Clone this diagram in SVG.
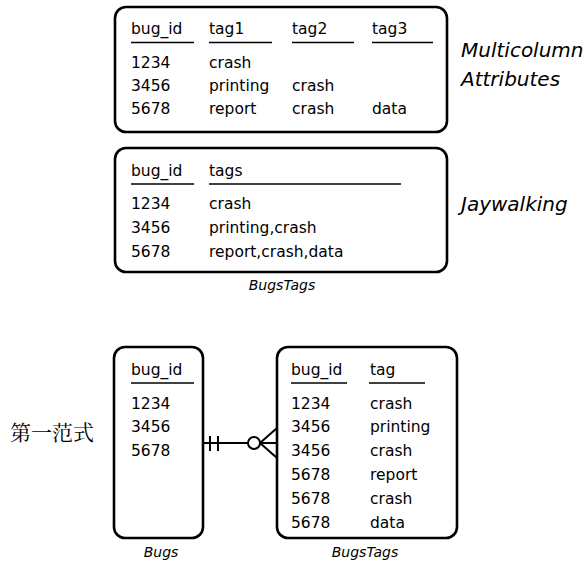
<svg xmlns="http://www.w3.org/2000/svg" width="587" height="563" viewBox="0 0 587 563">
<style>
.box{fill:#fff;stroke:#000;stroke-width:2.6}
.t{font-family:"DejaVu Sans","Liberation Sans",sans-serif;font-size:15.5px;fill:#000}
.ul{stroke:#000;stroke-width:1.3}
.lab{font-family:"DejaVu Sans","Liberation Sans",sans-serif;font-size:20px;font-style:italic;fill:#000}
.cap{font-family:"DejaVu Sans","Liberation Sans",sans-serif;font-size:14px;font-style:italic;fill:#000;text-anchor:middle}
.cn{font-family:"Noto Serif CJK SC","Noto Sans CJK SC",serif;font-size:21px;fill:#000}
.ln{stroke:#000;stroke-width:2;fill:none}
</style>
<g id="multicolumn">
<rect class="box" x="115" y="7" width="332" height="125" rx="11"/>
<text class="t" x="131" y="34">bug_id</text>
<text class="t" x="209" y="34">tag1</text>
<text class="t" x="292" y="34">tag2</text>
<text class="t" x="372" y="34">tag3</text>
<line class="ul" x1="131" y1="42.5" x2="194" y2="42.5"/>
<line class="ul" x1="209" y1="42.5" x2="272" y2="42.5"/>
<line class="ul" x1="292" y1="42.5" x2="354" y2="42.5"/>
<line class="ul" x1="372" y1="42.5" x2="433" y2="42.5"/>
<text class="t" x="131" y="68">1234</text><text class="t" x="209" y="68">crash</text>
<text class="t" x="131" y="91">3456</text><text class="t" x="209" y="91">printing</text><text class="t" x="292" y="91">crash</text>
<text class="t" x="131" y="114">5678</text><text class="t" x="209" y="114">report</text><text class="t" x="292" y="114">crash</text><text class="t" x="372" y="114">data</text>
</g>
<text class="lab" x="461" y="57">Multicolumn</text>
<text class="lab" x="461" y="86">Attributes</text>
<g id="jaywalking">
<rect class="box" x="115" y="148" width="332" height="124" rx="11"/>
<text class="t" x="131" y="176">bug_id</text>
<text class="t" x="209" y="176">tags</text>
<line class="ul" x1="131" y1="184" x2="194" y2="184"/>
<line class="ul" x1="209" y1="184" x2="401" y2="184"/>
<text class="t" x="131" y="209">1234</text><text class="t" x="209" y="209">crash</text>
<text class="t" x="131" y="233">3456</text><text class="t" x="209" y="233">printing,crash</text>
<text class="t" x="131" y="257">5678</text><text class="t" x="209" y="257">report,crash,data</text>
<text class="cap" x="282" y="290">BugsTags</text>
</g>
<text class="lab" x="461" y="211">Jaywalking</text>
<text class="cn" x="10" y="440">第一范式</text>
<g id="bugs">
<rect class="box" x="114" y="347" width="89" height="191" rx="11"/>
<text class="t" x="131" y="375">bug_id</text>
<line class="ul" x1="131" y1="383" x2="194" y2="383"/>
<text class="t" x="131" y="409">1234</text>
<text class="t" x="131" y="432">3456</text>
<text class="t" x="131" y="456">5678</text>
<text class="cap" x="161" y="557">Bugs</text>
</g>
<g id="bugstags">
<rect class="box" x="277" y="347" width="180" height="191" rx="11"/>
<text class="t" x="291" y="375">bug_id</text>
<text class="t" x="370" y="375">tag</text>
<line class="ul" x1="291" y1="383" x2="347" y2="383"/>
<line class="ul" x1="369" y1="383" x2="425" y2="383"/>
<text class="t" x="291" y="409">1234</text><text class="t" x="370" y="409">crash</text>
<text class="t" x="291" y="432">3456</text><text class="t" x="370" y="432">printing</text>
<text class="t" x="291" y="456">3456</text><text class="t" x="370" y="456">crash</text>
<text class="t" x="291" y="480">5678</text><text class="t" x="370" y="480">report</text>
<text class="t" x="291" y="504">5678</text><text class="t" x="370" y="504">crash</text>
<text class="t" x="291" y="528">5678</text><text class="t" x="370" y="528">data</text>
<text class="cap" x="365" y="557">BugsTags</text>
</g>
<g id="connectors">
<line class="ln" x1="203" y1="443" x2="248" y2="443"/>
<line class="ln" x1="210" y1="436" x2="210" y2="451"/>
<line class="ln" x1="218" y1="436" x2="218" y2="451"/>
<circle class="ln" cx="254" cy="443" r="6"/>
<line class="ln" x1="260" y1="443" x2="277" y2="443"/>
<line class="ln" x1="260" y1="443" x2="277" y2="428"/>
<line class="ln" x1="260" y1="443" x2="277" y2="458"/>
</g>
</svg>
